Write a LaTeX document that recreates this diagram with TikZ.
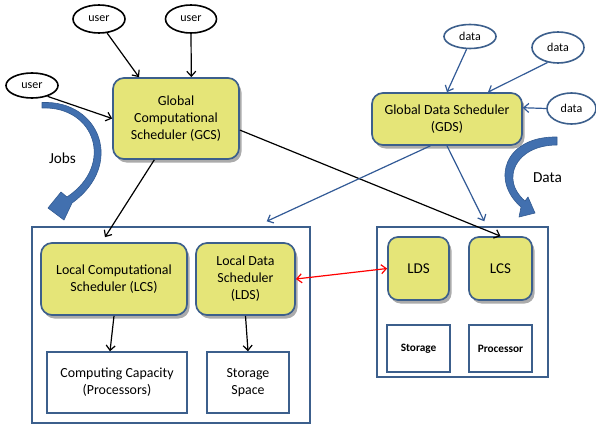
\documentclass[tikz,border=0pt]{standalone}
\usepackage{fontspec}
\setmainfont{Carlito}
\usetikzlibrary{shapes.geometric,arrows.meta,calc,shadows}
\newcommand\myfs[2]{\fontsize{#1}{#2}\selectfont}
\definecolor{yell}{RGB}{229,229,120}
\definecolor{bord}{RGB}{60,95,140}
\definecolor{conn}{RGB}{50,90,150}
\definecolor{bigarr}{RGB}{66,112,175}
\definecolor{bigarrd}{RGB}{50,90,145}
\tikzset{
  ybox/.style={draw=bord, line width=1.7pt, fill=yell, rounded corners=11pt, align=center,
    drop shadow={shadow xshift=2.5pt, shadow yshift=-3.5pt, fill=black!55, opacity=0.6},
    font=\myfs{13.9}{17}, inner sep=0pt},
  wbox/.style={draw=bord, line width=1.4pt, fill=white, align=center, inner sep=0pt, font=\myfs{13.9}{17}},
  outbox/.style={draw=bord, line width=1.4pt, inner sep=0pt},
  uell/.style={ellipse, draw=black, line width=1.6pt, fill=white, inner sep=0pt, font=\myfs{12}{14}},
  dell/.style={ellipse, draw=bord, line width=1.6pt, fill=white, inner sep=0pt, font=\myfs{12}{14}},
  blk/.style={-{Straight Barb[length=5pt,width=9pt,line width=1.2pt]}, line width=1.2pt, black},
  blu/.style={-{Straight Barb[length=5pt,width=9pt,line width=1.2pt]}, line width=1.2pt, conn},
  redar/.style={{Straight Barb[length=5pt,width=9pt,line width=1.2pt]}-{Straight Barb[length=5pt,width=9pt,line width=1.2pt]}, line width=1.2pt, red},
  bigarrow/.style={fill=bigarr, draw=bigarrd, line width=0.6pt, line join=round},
  lbl/.style={font=\myfs{15.3}{18}, inner sep=0pt}
}
\begin{document}
\begin{tikzpicture}[x=1pt,y=-1pt]
\useasboundingbox (0,0) rectangle (596,425);

% outer containers
\node[outbox, minimum width=278pt, minimum height=196pt] (outL) at (171,325) {};
\node[outbox, minimum width=171pt, minimum height=150pt] (outR) at (462.5,302) {};

% global schedulers
\node[ybox, minimum width=126pt, minimum height=81pt] (gcs) at (176,118.5) {Global\\Computational\\Scheduler (GCS)};
\node[ybox, minimum width=150pt, minimum height=52pt] (gds) at (447,119) {Global Data Scheduler\\(GDS)};

% users
\node[uell, minimum width=52pt, minimum height=28pt] (u1) at (99,19) {user};
\node[uell, minimum width=51pt, minimum height=28pt] (u2) at (191,19) {user};
\node[uell, minimum width=52pt, minimum height=25pt] (u3) at (32,85.5) {user};

% data
\node[dell, minimum width=52pt, minimum height=24pt] (d1) at (470,36.5) {data};
\node[dell, minimum width=52pt, minimum height=31pt] (d2) at (558,47.5) {data};
\node[dell, minimum width=49pt, minimum height=31pt] (d3) at (571.5,108.5) {data};

% left site
\node[ybox, minimum width=146pt, minimum height=72pt] (lcs) at (114,279) {Local Computational\\Scheduler (LCS)};
\node[ybox, minimum width=99pt, minimum height=72pt] (lds) at (245.5,279) {Local Data\\Scheduler\\(LDS)};
\node[wbox, minimum width=140pt, minimum height=61pt] (cc) at (117,382.5) {Computing Capacity\\(Processors)};
\node[wbox, minimum width=82pt, minimum height=61pt] (ss) at (248,382.5) {Storage\\Space};

% right site
\node[ybox, rounded corners=10pt, minimum width=61pt, minimum height=63pt, font=\myfs{15}{18}] (lds2) at (418.5,268.5) {LDS};
\node[ybox, rounded corners=10pt, minimum width=63pt, minimum height=63pt, font=\myfs{15}{18}] (lcs2) at (500.5,268.5) {LCS};
\node[wbox, minimum width=63pt, minimum height=47pt, font=\myfs{11.3}{13}\bfseries] (sto) at (418.5,348.5) {Storage};
\node[wbox, minimum width=63pt, minimum height=47pt, font=\myfs{11.3}{13}\bfseries] (pro) at (500.5,348.5) {Processor};

% user arrows
\draw[blk] (u1.-60) -- ($(gcs.north west)!0.21!(gcs.north east)$);
\draw[blk] (u2.south) -- ($(gcs.north west)!0.62!(gcs.north east)$);
\draw[blk] (u3.-35) -- (gcs.west);

% data arrows
\draw[blu] (d1.-105) -- (gds.north);
\draw[blu] (d2.-125) -- ($(gds.north west)!0.77!(gds.north east)$);
\draw[blu] (d3.west) -- ($(gds.north east)!0.29!(gds.south east)$);

% global to local
\draw[blk] ($(gcs.south west)!0.33!(gcs.south east)$) -- ($(lcs.north)+(-9,-5)$);
\draw[blk] ($(gcs.north east)!0.64!(gcs.south east)$) -- (lcs2.north);
\draw[blu] ($(gds.south west)!0.39!(gds.south east)$) -- ($(outL.north east)+(-44,-5)$);
\draw[blu] (gds.south) -- ($(outR.north west)+(108,-5)$);

% local arrows
\draw[blk] (lcs.south) -- ($(cc.north)+(-7,0)$);
\draw[blk] (lds.south) -- (ss.north);
\draw[redar] (lds.east) -- (lds2.west);

% big curved arrows
\path[bigarrow] (42,102.5) .. controls (100,100) and (125,165) .. (72,203)
  -- (64,220) -- (48,208) -- (61,192) -- (67,197)
  .. controls (115,165) and (95,106) .. (42,108) -- cycle;
\node[lbl] (jobs) at (62.5,158) {Jobs};

\path[bigarrow] (557,137) .. controls (505,136) and (490,180) .. (521,207)
  -- (519,217) -- (535,213) -- (528,197) -- (525,201)
  .. controls (500,180) and (515,145) .. (557,145) -- cycle;
\node[lbl] (data) at (547.5,178) {Data};
\end{tikzpicture}
\end{document}
